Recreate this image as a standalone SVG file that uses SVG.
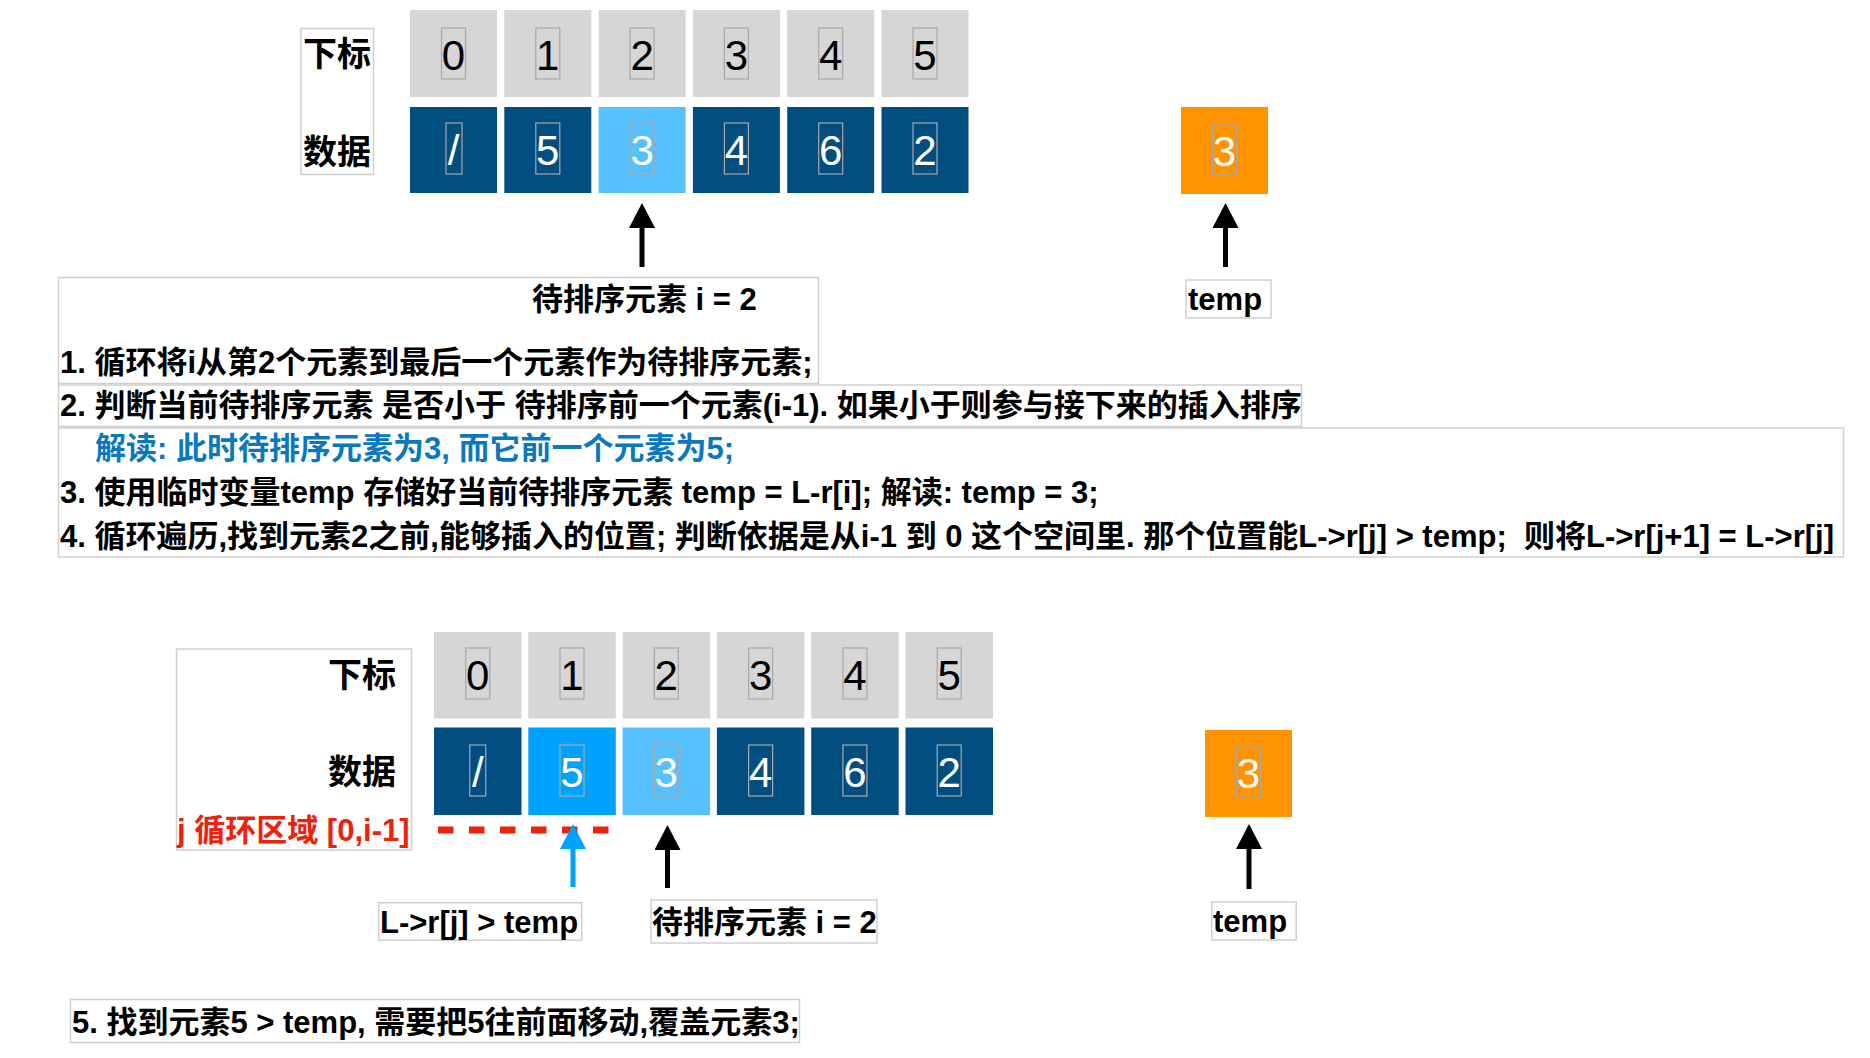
<svg xmlns="http://www.w3.org/2000/svg" width="1870" height="1058" viewBox="0 0 1870 1058">
<defs>
<style>
.bg{fill:#ffffff}
.idx{fill:#d6d6d6}
.dk{fill:#034e80}
.lt{fill:#56c1ff}
.br{fill:#00a2ff}
.or{fill:#ff9300}
.dbox{fill:none;stroke:#a8a8a8;stroke-width:1.2}
.dg{font-family:"Liberation Sans",Arial,sans-serif;font-size:42px;text-anchor:middle}
.dgb{fill:#000000}
.dgw{fill:#ffffff}
.tb{fill:#ffffff;stroke:#cfcfcf;stroke-width:1.5}
.t{font-family:"Liberation Sans","Noto Sans CJK SC",sans-serif;font-size:31px;font-weight:bold;fill:#000000}
.lab{font-family:"Liberation Sans","Noto Sans CJK SC",sans-serif;font-size:34px;font-weight:bold;fill:#000000}
.blue{fill:#0a78bf}
.red{fill:#ee220c}
.arr{stroke:#000000;stroke-width:5;fill:none}
.arrb{stroke:#00a2ff;stroke-width:5;fill:none}
</style>
<marker id="hk" markerUnits="userSpaceOnUse" markerWidth="26" markerHeight="26" viewBox="0 0 26 26" refX="0" refY="13" orient="auto">
<path d="M0,0 L25,13 L0,26 z" fill="#000000"/>
</marker>
<marker id="hb" markerUnits="userSpaceOnUse" markerWidth="26" markerHeight="26" viewBox="0 0 26 26" refX="0" refY="13" orient="auto">
<path d="M0,0 L25,13 L0,26 z" fill="#00a2ff"/>
</marker>
</defs>
<rect class="bg" x="0" y="0" width="1870" height="1058"/>

<!-- Top section -->
<g id="top-labels">
<rect class="tb" x="301" y="28.5" width="72.5" height="146"/>
<text class="lab" x="337" y="66" text-anchor="middle">下标</text>
<text class="lab" x="337" y="164" text-anchor="middle">数据</text>
</g>

<g id="top-idx-0"><rect class="idx" x="410" y="10" width="87" height="87"/><rect class="dbox" x="441.5" y="28" width="24" height="51"/><text class="dg dgb" x="453.5" y="70">0</text></g>
<g id="top-idx-1"><rect class="idx" x="504.3" y="10" width="87" height="87"/><rect class="dbox" x="535.8" y="28" width="24" height="51"/><text class="dg dgb" x="547.8" y="70">1</text></g>
<g id="top-idx-2"><rect class="idx" x="598.6" y="10" width="87" height="87"/><rect class="dbox" x="630.1" y="28" width="24" height="51"/><text class="dg dgb" x="642.1" y="70">2</text></g>
<g id="top-idx-3"><rect class="idx" x="692.9" y="10" width="87" height="87"/><rect class="dbox" x="724.4" y="28" width="24" height="51"/><text class="dg dgb" x="736.4" y="70">3</text></g>
<g id="top-idx-4"><rect class="idx" x="787.2" y="10" width="87" height="87"/><rect class="dbox" x="818.7" y="28" width="24" height="51"/><text class="dg dgb" x="830.7" y="70">4</text></g>
<g id="top-idx-5"><rect class="idx" x="881.5" y="10" width="87" height="87"/><rect class="dbox" x="913" y="28" width="24" height="51"/><text class="dg dgb" x="925" y="70">5</text></g>

<g id="top-dat-0"><rect class="dk" x="410" y="107" width="87" height="86"/><rect class="dbox" x="446" y="123" width="16" height="51"/><text class="dg dgw" x="453.5" y="165">/</text></g>
<g id="top-dat-1"><rect class="dk" x="504.3" y="107" width="87" height="86"/><rect class="dbox" x="535.8" y="123" width="24" height="51"/><text class="dg dgw" x="547.8" y="165">5</text></g>
<g id="top-dat-2"><rect class="lt" x="598.6" y="107" width="87" height="86"/><rect class="dbox" x="630.1" y="123" width="24" height="51"/><text class="dg dgw" x="642.1" y="165">3</text></g>
<g id="top-dat-3"><rect class="dk" x="692.9" y="107" width="87" height="86"/><rect class="dbox" x="724.4" y="123" width="24" height="51"/><text class="dg dgw" x="736.4" y="165">4</text></g>
<g id="top-dat-4"><rect class="dk" x="787.2" y="107" width="87" height="86"/><rect class="dbox" x="818.7" y="123" width="24" height="51"/><text class="dg dgw" x="830.7" y="165">6</text></g>
<g id="top-dat-5"><rect class="dk" x="881.5" y="107" width="87" height="86"/><rect class="dbox" x="913" y="123" width="24" height="51"/><text class="dg dgw" x="925" y="165">2</text></g>

<g id="top-temp"><rect class="or" x="1181" y="107" width="87" height="87"/><rect class="dbox" x="1212.5" y="124" width="24" height="51"/><text class="dg dgw" x="1224.5" y="166">3</text></g>

<g id="top-temp-label"><rect class="tb" x="1186" y="280" width="85" height="38"/><text class="t" x="1188" y="310">temp</text></g>

<g id="note-1">
<rect class="tb" x="58.5" y="277.5" width="760" height="106"/>
<text class="t" x="532" y="310">待排序元素 i = 2</text>
<text class="t" x="60" y="373">1. 循环将i从第2个元素到最后一个元素作为待排序元素;</text>
</g>
<g id="note-2">
<rect class="tb" x="58.5" y="385" width="1243" height="41.5"/>
<text class="t" x="60" y="416">2. 判断当前待排序元素 是否小于 待排序前一个元素(i-1). 如果小于则参与接下来的插入排序</text>
</g>
<g id="note-3">
<rect class="tb" x="58.5" y="428" width="1785" height="129"/>
<text class="t blue" x="95" y="459">解读: 此时待排序元素为3, 而它前一个元素为5;</text>
<text class="t" x="60" y="503">3. 使用临时变量temp 存储好当前待排序元素 temp = L-r[i]; 解读: temp = 3;</text>
<text class="t" x="60" y="547" xml:space="preserve">4. 循环遍历,找到元素2之前,能够插入的位置; 判断依据是从i-1 到 0 这个空间里. 那个位置能L-&gt;r[j] &gt; temp;  则将L-&gt;r[j+1] = L-&gt;r[j]</text>
</g>

<!-- Bottom section -->
<g id="bot-labels">
<rect class="tb" x="176.5" y="649" width="235" height="201"/>
<text class="lab" x="396" y="687" text-anchor="end">下标</text>
<text class="lab" x="396" y="784" text-anchor="end">数据</text>
<text class="t red" x="177" y="841">j 循环区域 [0,i-1]</text>
</g>

<g id="bot-idx-0"><rect class="idx" x="434" y="632" width="87.5" height="86.5"/><rect class="dbox" x="465.75" y="648" width="24" height="51"/><text class="dg dgb" x="477.75" y="690">0</text></g>
<g id="bot-idx-1"><rect class="idx" x="528.3" y="632" width="87.5" height="86.5"/><rect class="dbox" x="560" y="648" width="24" height="51"/><text class="dg dgb" x="572" y="690">1</text></g>
<g id="bot-idx-2"><rect class="idx" x="622.6" y="632" width="87.5" height="86.5"/><rect class="dbox" x="654.3" y="648" width="24" height="51"/><text class="dg dgb" x="666.3" y="690">2</text></g>
<g id="bot-idx-3"><rect class="idx" x="716.9" y="632" width="87.5" height="86.5"/><rect class="dbox" x="748.6" y="648" width="24" height="51"/><text class="dg dgb" x="760.6" y="690">3</text></g>
<g id="bot-idx-4"><rect class="idx" x="811.2" y="632" width="87.5" height="86.5"/><rect class="dbox" x="842.9" y="648" width="24" height="51"/><text class="dg dgb" x="854.9" y="690">4</text></g>
<g id="bot-idx-5"><rect class="idx" x="905.5" y="632" width="87.5" height="86.5"/><rect class="dbox" x="937.2" y="648" width="24" height="51"/><text class="dg dgb" x="949.2" y="690">5</text></g>

<g id="bot-dat-0"><rect class="dk" x="434" y="727.5" width="87.5" height="87.5"/><rect class="dbox" x="469.75" y="745" width="16" height="51"/><text class="dg dgw" x="477.75" y="787">/</text></g>
<g id="bot-dat-1"><rect class="br" x="528.3" y="727.5" width="87.5" height="87.5"/><rect class="dbox" x="560" y="745" width="24" height="51"/><text class="dg dgw" x="572" y="787">5</text></g>
<g id="bot-dat-2"><rect class="lt" x="622.6" y="727.5" width="87.5" height="87.5"/><rect class="dbox" x="654.3" y="745" width="24" height="51"/><text class="dg dgw" x="666.3" y="787">3</text></g>
<g id="bot-dat-3"><rect class="dk" x="716.9" y="727.5" width="87.5" height="87.5"/><rect class="dbox" x="748.6" y="745" width="24" height="51"/><text class="dg dgw" x="760.6" y="787">4</text></g>
<g id="bot-dat-4"><rect class="dk" x="811.2" y="727.5" width="87.5" height="87.5"/><rect class="dbox" x="842.9" y="745" width="24" height="51"/><text class="dg dgw" x="854.9" y="787">6</text></g>
<g id="bot-dat-5"><rect class="dk" x="905.5" y="727.5" width="87.5" height="87.5"/><rect class="dbox" x="937.2" y="745" width="24" height="51"/><text class="dg dgw" x="949.2" y="787">2</text></g>

<g id="bot-temp"><rect class="or" x="1205" y="730" width="87" height="87"/><rect class="dbox" x="1236.5" y="746" width="24" height="51"/><text class="dg dgw" x="1248.5" y="788">3</text></g>

<g id="bot-lrj-label"><rect class="tb" x="378.7" y="902.7" width="203" height="37.5"/><text class="t" x="380" y="933">L-&gt;r[j] &gt; temp</text></g>
<g id="bot-i-label"><rect class="tb" x="651" y="900" width="226" height="43"/><text class="t" x="652" y="933">待排序元素 i = 2</text></g>
<g id="bot-temp-label"><rect class="tb" x="1211.7" y="902" width="84.5" height="38"/><text class="t" x="1213" y="932">temp</text></g>

<g id="note-5">
<rect class="tb" x="70.5" y="999.5" width="729" height="43"/>
<text class="t" x="72" y="1033">5. 找到元素5 &gt; temp, 需要把5往前面移动,覆盖元素3;</text>
</g>

<g id="connectors">
<line class="arr" x1="642" y1="267" x2="642" y2="228" marker-end="url(#hk)"/>
<line class="arr" x1="1225.5" y1="267" x2="1225.5" y2="228" marker-end="url(#hk)"/>
<path d="M438,830 H610" stroke="#ee220c" stroke-width="7" stroke-dasharray="15.5 15.5" fill="none"/>
<line class="arrb" x1="573" y1="887" x2="573" y2="849" marker-end="url(#hb)"/>
<line class="arr" x1="667.5" y1="888" x2="667.5" y2="850" marker-end="url(#hk)"/>
<line class="arr" x1="1249" y1="889" x2="1249" y2="849" marker-end="url(#hk)"/>
</g>
</svg>
